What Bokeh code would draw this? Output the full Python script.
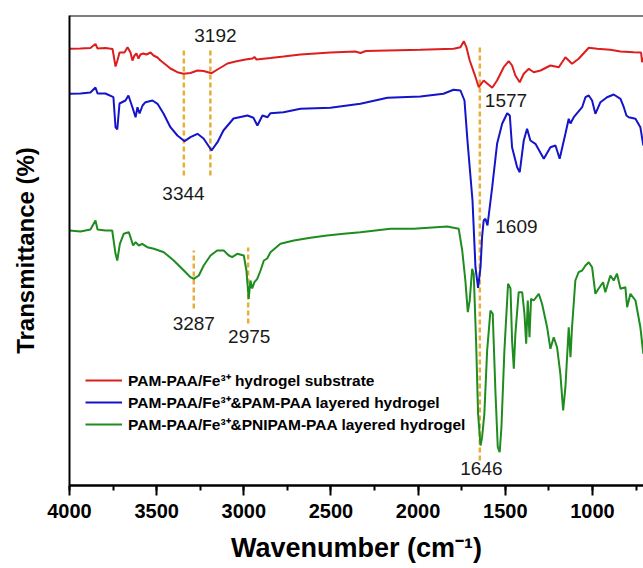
from bokeh.plotting import figure
from bokeh.models import Range1d, SingleIntervalTicker, FixedTicker, Span
from bokeh.core.properties import value
from bokeh.embed import file_html
from bokeh.resources import INLINE

# ---- data: (wavenumber cm-1, transmittance a.u., curves offset as in figure) ----
red_pts = [(4000, 436.7), (3937, 437), (3880, 437.5), (3851, 441.5), (3839, 437), (3794, 437.5),
           (3753, 436.5), (3736, 419), (3725, 425), (3713, 433), (3685, 433), (3667, 438.3),
           (3650, 433), (3639, 425), (3627, 430), (3616, 432), (3604, 427), (3593, 431),
           (3576, 432), (3558, 431), (3535, 433), (3518, 430), (3495, 428), (3478, 425),
           (3449, 421), (3421, 417), (3381, 413.3), (3346, 411.7), (3306, 412.5), (3266, 415),
           (3231, 414.5), (3185, 412.3), (3151, 416), (3122, 419), (3094, 422), (3048, 424),
           (2990, 426), (2950, 427), (2939, 428.5), (2927, 426), (2847, 427.5), (2772, 429),
           (2675, 431), (2503, 433), (2360, 434), (2331, 432.5), (2300, 434.5), (1987, 435.7),
           (1796, 436.7), (1757, 438.3), (1738, 444.3), (1723, 438.3), (1704, 425), (1677, 411.7),
           (1652, 398.3), (1624, 405), (1604, 402), (1575, 397.7), (1547, 405), (1509, 418.3),
           (1480, 424.3), (1461, 420), (1442, 410), (1417, 403.3), (1394, 411.7), (1365, 416.7),
           (1337, 413.3), (1298, 415), (1241, 420), (1193, 418.3), (1155, 428.3), (1136, 425),
           (1117, 421.7), (1079, 426.7), (1021, 437.7), (973, 436.7), (897, 435.7), (839, 434),
           (763, 433.3), (721, 433), (715, 423.3), (708, 428)]

blue_pts = [(4000, 391.7), (3937, 392), (3880, 393), (3851, 398), (3839, 392), (3794, 392),
            (3748, 388.3), (3736, 358.3), (3726, 356), (3713, 382), (3679, 385), (3662, 390),
            (3639, 378.3), (3621, 368.3), (3610, 378.3), (3598, 372), (3581, 380), (3564, 383.3),
            (3524, 385), (3495, 381.7), (3461, 372), (3421, 358.3), (3381, 350), (3340, 344.3),
            (3306, 348.3), (3266, 351.7), (3231, 347), (3185, 335), (3151, 343.3), (3117, 355),
            (3059, 367), (2979, 370), (2945, 367.7), (2922, 360), (2893, 370), (2864, 368.3),
            (2847, 372.3), (2772, 373.3), (2675, 376.7), (2503, 377.7), (2331, 381.7),
            (2176, 387.7), (1987, 389), (1855, 391.7), (1797, 395.7), (1757, 395), (1734, 385),
            (1717, 345), (1688, 285), (1671, 218.3), (1656, 197.7), (1642, 218.3), (1633, 248.3),
            (1624, 265), (1614, 266.7), (1602, 260), (1575, 298.3), (1547, 341.7), (1518, 361.7),
            (1489, 372.3), (1474, 370), (1461, 338.3), (1432, 318.3), (1417, 313.3), (1394, 345),
            (1375, 356.7), (1356, 345), (1327, 341.7), (1279, 326.7), (1241, 338.3), (1212, 340),
            (1188, 326.7), (1155, 351.7), (1136, 366.7), (1126, 362), (1107, 368.3), (1059, 378.3),
            (1040, 388.3), (1021, 390), (1002, 385), (983, 371.7), (954, 383.3), (916, 388.3),
            (878, 391), (839, 386.7), (820, 378.3), (805, 370), (792, 368.3), (753, 366.7),
            (725, 358.3), (708, 340)]

green_pts = [(4000, 255), (3937, 254), (3880, 256), (3851, 265), (3839, 256), (3794, 255),
             (3755, 255), (3736, 231.7), (3726, 225), (3711, 241.7), (3689, 251.7), (3660, 253.3),
             (3650, 248.3), (3635, 240), (3621, 243.3), (3602, 240), (3583, 241.7), (3554, 238.3),
             (3516, 236.7), (3459, 233.3), (3402, 225), (3344, 215), (3306, 208.3), (3287, 206.7),
             (3258, 210), (3230, 220), (3191, 230), (3153, 235), (3115, 235), (3086, 230),
             (3067, 228.3), (3038, 231.7), (3000, 230), (2985, 215), (2972, 186.7), (2962, 205),
             (2952, 197), (2939, 203.3), (2923, 206.7), (2904, 215), (2885, 225), (2866, 227),
             (2847, 233.3), (2790, 241.7), (2713, 245), (2618, 247.7), (2522, 250), (2427, 251.7),
             (2331, 253.3), (2159, 256.7), (2025, 256.7), (1833, 259), (1767, 256.7), (1747, 235),
             (1729, 205), (1715, 173.3), (1704, 185), (1690, 216.7), (1681, 211.7), (1667, 141.7),
             (1656, 71.7), (1642, 40), (1633, 48.3), (1620, 71.7), (1604, 135), (1585, 175),
             (1572, 171.7), (1556, 91.7), (1543, 38.3), (1532, 33.3), (1522, 58.3), (1505, 135),
             (1484, 201.7), (1470, 197), (1461, 145), (1451, 116.7), (1442, 151.7), (1423, 193.3),
             (1403, 193.3), (1390, 171.7), (1380, 141.7), (1371, 185), (1361, 148.3), (1352, 186.7),
             (1337, 185), (1308, 191.7), (1289, 181.7), (1260, 158.3), (1241, 136.7), (1222, 148.3),
             (1203, 138.3), (1184, 111.7), (1168, 75), (1155, 98.3), (1136, 158.3), (1126, 128.3),
             (1117, 158.3), (1098, 205), (1079, 213.3), (1059, 215), (1040, 220), (1021, 223.3),
             (1002, 218.3), (983, 191.7), (964, 197), (939, 203.3), (926, 193.3), (897, 210),
             (878, 205), (859, 211.7), (839, 196.7), (811, 198.3), (801, 178.3), (782, 191.7),
             (753, 185), (725, 158.3), (708, 131.7)]

series_names = ["PAM-PAA/Fe\u00b3\u207a hydrogel substrate",
                "PAM-PAA/Fe\u00b3\u207a&PAM-PAA layered hydrogel",
                "PAM-PAA/Fe\u00b3\u207a&PNIPAM-PAA layered hydrogel"]

# marked peaks: dashed guide lines
peak_wn = [3344, 3192, 1646, 3287, 2975]
peak_top = [438, 438, 440, 235, 238]
peak_bottom = [310, 310, 25, 177, 162]

# peak labels
label_text = ["3192", "3344", "1577", "1609", "3287", "2975", "1646"]
label_wn = [3163, 3346, 1496, 1436, 3287, 2969, 1637]
label_t = [450, 292, 385.5, 259, 162, 149, 17]

x_ticks_interval = 500

FONT = "Liberation Sans"
colors = ["#dc1e1e", "#1414c8", "#1e8c1e"]

p = figure(width=643, height=568, output_backend="svg", toolbar_location=None,
           x_range=Range1d(4000, 707), y_range=Range1d(0, 470),
           min_border_left=69, min_border_right=0, min_border_top=15, min_border_bottom=83)
p.outline_line_color = None
p.grid.visible = False
p.background_fill_color = "white"
p.border_fill_color = "white"

# dashed guide lines
p.segment(x0=peak_wn, x1=peak_wn, y0=peak_bottom, y1=peak_top,
          line_color="#e6ae3a", line_width=2.5, line_dash="5 3")

for pts, c, name in zip([red_pts, blue_pts, green_pts], colors, series_names):
    xs, ys = zip(*pts)
    p.line(list(xs), list(ys), line_color=c, line_width=2, legend_label=name)

p.text(x=label_wn, y=label_t, text=label_text, text_align="center", text_baseline="middle",
       text_font=value(FONT), text_font_size="19px", text_color="#1a1a1a")

p.add_layout(Span(location=470, dimension="width", line_color="black", line_width=2))

xa = p.xaxis[0]
xa.ticker = SingleIntervalTicker(interval=x_ticks_interval, num_minor_ticks=2)
xa.axis_line_width = 2.5
xa.major_tick_line_width = 2
xa.minor_tick_line_width = 2
xa.major_tick_in = 0
xa.major_tick_out = 10
xa.minor_tick_in = 0
xa.minor_tick_out = 5
xa.major_label_text_font = FONT
xa.major_label_text_font_style = "bold"
xa.major_label_text_font_size = "20px"
xa.major_label_text_color = "black"
xa.major_label_standoff = 8
xa.axis_label = "Wavenumber (cm\u207b\u00b9)"
xa.axis_label_text_font = FONT
xa.axis_label_text_font_style = "bold"
xa.axis_label_text_font_size = "27px"
xa.axis_label_text_color = "black"
xa.axis_label_standoff = 12

ya = p.yaxis[0]
ya.ticker = FixedTicker(ticks=[])
ya.axis_line_width = 2
ya.major_tick_line_color = None
ya.minor_tick_line_color = None
ya.major_label_text_font_size = "0px"
ya.axis_label = "Transmittance (%)"
ya.axis_label_text_font = FONT
ya.axis_label_text_font_style = "bold"
ya.axis_label_text_font_size = "24px"
ya.axis_label_text_color = "black"
ya.axis_label_standoff = 31

lg = p.legend[0]
lg.location = (16, 50)
lg.border_line_color = None
lg.background_fill_alpha = 0
lg.padding = 0
lg.margin = 0
lg.spacing = 0
lg.glyph_width = 37
lg.glyph_height = 22
lg.label_height = 22
lg.label_standoff = 6
lg.label_text_font = FONT
lg.label_text_font_style = "bold"
lg.label_text_font_size = "15.5px"
lg.label_text_color = "black"

open("out.html", "w").write(file_html(p, INLINE))
